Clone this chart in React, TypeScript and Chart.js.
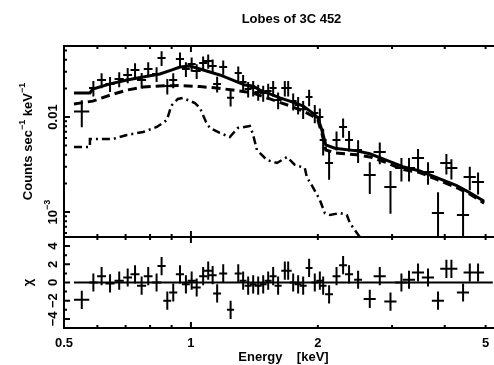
import React, { useEffect, useRef } from "react";
import { Chart, registerables } from "chart.js";

Chart.register(...registerables);

// ---------- data ----------
const title = "Lobes of 3C 452";
const xTitle = "Energy    [keV]";
const yTitleMain = "Counts sec";
const yTitleUnit = " keV";
const residTitle = "χ";

const energy = [
  0.551, 0.587, 0.614, 0.643, 0.676, 0.708, 0.737, 0.764, 0.792, 0.829,
  0.852, 0.879, 0.908, 0.942, 0.973, 1.004, 1.032, 1.069, 1.099, 1.126,
  1.154, 1.193, 1.242, 1.295, 1.33, 1.367, 1.405, 1.444, 1.484, 1.525,
  1.567, 1.61, 1.67, 1.701, 1.748, 1.796, 1.846, 1.907, 1.967, 2.022,
  2.059, 2.127, 2.215, 2.296, 2.372, 2.492, 2.656, 2.805, 2.974, 3.157,
  3.291, 3.457, 3.651, 3.856, 4.036, 4.148, 4.421, 4.586, 4.798,
];
const energyHalfWidth = [
  0.023, 0.014, 0.015, 0.016, 0.017, 0.017, 0.018, 0.019, 0.019, 0.02,
  0.019, 0.019, 0.02, 0.021, 0.021, 0.022, 0.023, 0.023, 0.024, 0.025,
  0.025, 0.026, 0.024, 0.025, 0.025, 0.026, 0.027, 0.028, 0.028, 0.029,
  0.03, 0.031, 0.032, 0.033, 0.033, 0.034, 0.035, 0.036, 0.038, 0.039,
  0.039, 0.046, 0.048, 0.05, 0.052, 0.054, 0.088, 0.093, 0.099, 0.105,
  0.11, 0.115, 0.122, 0.128, 0.134, 0.138, 0.147, 0.153, 0.16,
];
const counts = [
  0.0114, 0.0202, 0.0245, 0.0223, 0.0251, 0.0277, 0.0313, 0.0245, 0.032, 0.0284,
  0.0418, 0.0212, 0.0245, 0.0408, 0.032, 0.0361, 0.0305, 0.037, 0.0389, 0.0344,
  0.0223, 0.0336, 0.0159, 0.029, 0.0234, 0.0197, 0.0202, 0.0183, 0.0179, 0.0188,
  0.0202, 0.0151, 0.0202, 0.0202, 0.0147, 0.0134, 0.0121, 0.0162, 0.011, 0.01,
  0.00573, 0.00328, 0.00573, 0.00785, 0.00573, 0.00449, 0.00245, 0.00428, 0.00183, 0.0029,
  0.0029, 0.0037, 0.00264, 0.000976, 0.00328, 0.0029, 0.00093, 0.00234, 0.00207,
];
const countsErr = [
  0.0036, 0.0038, 0.0044, 0.004, 0.0045, 0.005, 0.0055, 0.0045, 0.0057, 0.005,
  0.0073, 0.0039, 0.0044, 0.007, 0.0057, 0.0062, 0.0054, 0.0064, 0.0066, 0.006,
  0.0042, 0.0058, 0.003, 0.0051, 0.0043, 0.0037, 0.0038, 0.0035, 0.0034, 0.0036,
  0.0038, 0.003, 0.0038, 0.0038, 0.003, 0.0028, 0.0026, 0.0032, 0.0024, 0.0023,
  0.0018, 0.0011, 0.0013, 0.0018, 0.0014, 0.0012, 0.0009, 0.0011, 0.00087, 0.0008,
  0.0008, 0.0009, 0.0007, 0.00064, 0.0008, 0.0007, 0.00075, 0.00065, 0.00054,
];
const residual = [
  -1.9, 0.0, 0.7, -0.1, 0.2, 0.55, 0.9, -0.35, 0.7, 0.0,
  1.8, -2.0, -1.1, 0.9, -0.2, 0.2, -0.55, 0.7, 1.3, 0.8,
  -1.2, 1.0, -3.0, 1.0, 0.2, -0.35, -0.2, -0.35, -0.2, 0.2,
  0.7, -0.35, 1.3, 1.3, 0.0, -0.2, -0.35, 1.6, 0.0, 0.2,
  -0.35, -1.3, 0.7, 1.9, 0.9, 0.3, -1.8, 0.7, -2.1, 0.0,
  0.3, 1.1, 0.55, -2.0, 1.5, 1.5, -1.1, 1.1, 1.1,
];
const residualErr = 1;

const totalModelE = [
  0.528, 0.576, 0.585, 0.643, 0.705, 0.77, 0.844, 0.902, 0.942, 0.995,
  1.051, 1.109, 1.171, 1.257, 1.343, 1.403, 1.457, 1.539, 1.626, 1.716,
  1.843, 1.946, 2.0, 2.044, 2.089, 2.195, 2.474, 2.656, 2.915, 3.181,
  3.49, 3.83, 4.27, 4.58, 4.96,
];
const totalModel = [
  0.0179, 0.0179, 0.0197, 0.0223, 0.0245, 0.0264, 0.0284, 0.0313, 0.0336, 0.0344,
  0.032, 0.0298, 0.0277, 0.0245, 0.0217, 0.0212, 0.0192, 0.0175, 0.0159, 0.0147,
  0.0131, 0.011, 0.0098, 0.0073, 0.0051, 0.0047, 0.0044, 0.0041, 0.0035, 0.003,
  0.0027, 0.0023, 0.0019, 0.0016, 0.0013,
];
const powerLawE = [
  0.528, 0.585, 0.643, 0.705, 0.77, 0.844, 0.942, 1.051, 1.152, 1.257,
  1.403, 1.539, 1.716, 1.843, 1.946, 2.0, 2.044, 2.089, 2.195, 2.474,
  2.656, 2.915, 3.181, 3.49, 3.83, 4.27, 4.58, 4.96,
];
const powerLaw = [
  0.0137, 0.0147, 0.017, 0.0192, 0.0207, 0.0212, 0.0215, 0.0209, 0.0202, 0.0192,
  0.0179, 0.0155, 0.0131, 0.0116, 0.0102, 0.0093, 0.0068, 0.0045, 0.0042, 0.004,
  0.0038, 0.0033, 0.0028, 0.0026, 0.0022, 0.0018, 0.00155, 0.00124,
];
const thermalE = [
  0.528, 0.576, 0.576, 0.653, 0.705, 0.77, 0.83, 0.877, 0.892, 0.902,
  0.931, 0.957, 0.995, 1.022, 1.051, 1.068, 1.086, 1.109, 1.171, 1.237,
  1.292, 1.38, 1.403, 1.434, 1.514, 1.6, 1.69, 1.764, 1.863, 1.883,
  1.946, 2.022, 2.078, 2.136, 2.256, 2.344, 2.382, 2.447, 2.543,
];
const thermal = [
  0.00483, 0.00483, 0.00587, 0.00587, 0.00647, 0.00695, 0.00785, 0.0093, 0.01185, 0.01338,
  0.01547, 0.01585, 0.01474, 0.01404, 0.01244, 0.0105, 0.00886, 0.00766, 0.00679, 0.00616,
  0.00766, 0.00804, 0.00662, 0.00449, 0.00353, 0.00328, 0.00379, 0.00313, 0.0029, 0.00234,
  0.00183, 0.00134, 0.000976, 0.00093, 0.000976, 0.00093, 0.000766, 0.000647, 0.000512,
];
const zeroLineE = [0.528, 5.2];

const xMin = 0.5;
const xMax = 6;
const yMin = 5.458e-4;
const yMax = 0.05589;
const residMin = -5;
const residMax = 5;

const xMinorTicks = [0.6, 0.7, 0.8, 0.9, 2, 3, 4, 5];
const xMajorTicks = [1];
const xTickLabels = [
  { v: 0.5, t: "0.5" },
  { v: 1, t: "1" },
  { v: 2, t: "2" },
  { v: 5, t: "5" },
];
const yMajorTicks = [0.001, 0.01];
const yMinorTicks = [
  0.0006, 0.0007, 0.0008, 0.0009, 0.002, 0.003, 0.004, 0.005, 0.006, 0.007, 0.008,
  0.009, 0.02, 0.03, 0.04, 0.05,
];
const residMajorTicks = [-4, -2, 0, 2, 4];
const residMinorTicks = [-5, -3, -1, 1, 3, 5];
const residTickLabels = ["−4", "−2", "0", "2", "4"];

const FONT = '"Liberation Sans", Arial, sans-serif';

const pgplotPlugin = {
  id: "pgplot",
  afterDatasetsDraw(chart: any) {
    const { ctx, chartArea } = chart;
    const xs = chart.scales.x;
    const ys = chart.scales.y;
    const rs = chart.scales.y2;
    const left = chartArea.left;
    const right = chartArea.right;
    const tTop = ys.top;
    const tBot = ys.bottom;
    const rTop = rs.top;
    const rBot = rs.bottom;
    ctx.save();
    ctx.strokeStyle = "#000";
    ctx.fillStyle = "#000";
    ctx.lineCap = "butt";

    // data crosses (top panel)
    ctx.save();
    ctx.beginPath();
    ctx.rect(left, tTop, right - left, tBot - tTop);
    ctx.clip();
    ctx.lineWidth = 2;
    ctx.beginPath();
    energy.forEach((e, i) => {
      const px = xs.getPixelForValue(e);
      const pl = xs.getPixelForValue(e - energyHalfWidth[i]);
      const pr = xs.getPixelForValue(e + energyHalfWidth[i]);
      const py = ys.getPixelForValue(counts[i]);
      const lo = counts[i] - countsErr[i];
      const pt = ys.getPixelForValue(counts[i] + countsErr[i]);
      const pb = lo > 0 ? ys.getPixelForValue(lo) : tBot + 5;
      ctx.moveTo(pl, py);
      ctx.lineTo(pr, py);
      ctx.moveTo(px, pt);
      ctx.lineTo(px, pb);
    });
    ctx.stroke();
    ctx.restore();

    // residual crosses
    ctx.save();
    ctx.beginPath();
    ctx.rect(left, rTop, right - left, rBot - rTop);
    ctx.clip();
    ctx.lineWidth = 2;
    ctx.beginPath();
    energy.forEach((e, i) => {
      const px = xs.getPixelForValue(e);
      const pl = xs.getPixelForValue(e - energyHalfWidth[i]);
      const pr = xs.getPixelForValue(e + energyHalfWidth[i]);
      const py = rs.getPixelForValue(residual[i]);
      const pt = rs.getPixelForValue(residual[i] + residualErr);
      const pb = rs.getPixelForValue(residual[i] - residualErr);
      ctx.moveTo(pl, py);
      ctx.lineTo(pr, py);
      ctx.moveTo(px, pt);
      ctx.lineTo(px, pb);
    });
    ctx.stroke();
    ctx.restore();

    // frames
    ctx.lineWidth = 2;
    ctx.strokeRect(left, tTop, right - left, tBot - tTop);
    ctx.strokeRect(left, rTop, right - left, rBot - rTop);

    // ticks
    const MAJ = 6;
    const MIN = 3;
    ctx.lineWidth = 2;
    ctx.beginPath();
    const xTick = (v: number, len: number) => {
      const p = xs.getPixelForValue(v);
      ctx.moveTo(p, tTop);
      ctx.lineTo(p, tTop + len);
      ctx.moveTo(p, tBot);
      ctx.lineTo(p, tBot - len);
      ctx.moveTo(p, rTop);
      ctx.lineTo(p, rTop + len);
      ctx.moveTo(p, rBot);
      ctx.lineTo(p, rBot - len);
    };
    xMinorTicks.forEach((v) => xTick(v, MIN));
    xMajorTicks.forEach((v) => xTick(v, MAJ));
    const yTick = (scale: any, v: number, len: number) => {
      const p = scale.getPixelForValue(v);
      ctx.moveTo(left, p);
      ctx.lineTo(left + len, p);
      ctx.moveTo(right, p);
      ctx.lineTo(right - len, p);
    };
    yMinorTicks.forEach((v) => yTick(ys, v, MIN));
    yMajorTicks.forEach((v) => yTick(ys, v, MAJ));
    residMinorTicks.forEach((v) => yTick(rs, v, MIN));
    residMajorTicks.forEach((v) => yTick(rs, v, MAJ));
    ctx.stroke();

    // text
    ctx.font = `bold 13px ${FONT}`;
    ctx.textAlign = "center";
    ctx.textBaseline = "middle";
    ctx.fillText(title, (left + right) / 2, 19);
    xTickLabels.forEach((l) => {
      ctx.fillText(l.t, xs.getPixelForValue(l.v), rBot + 15);
    });
    ctx.fillText(xTitle, (left + right) / 2 - 8, rBot + 29);

    const rotText = (x: number, y: number, draw: () => void) => {
      ctx.save();
      ctx.translate(x, y);
      ctx.rotate(-Math.PI / 2);
      draw();
      ctx.restore();
    };
    const tickLabelX = left - 11;
    rotText(tickLabelX, ys.getPixelForValue(0.01), () => ctx.fillText("0.01", 0, 0));
    rotText(tickLabelX, ys.getPixelForValue(0.001), () => {
      ctx.font = `bold 13px ${FONT}`;
      const w1 = ctx.measureText("10").width;
      ctx.font = `bold 9px ${FONT}`;
      const w2 = ctx.measureText("−3").width;
      const start = -(w1 + w2) / 2;
      ctx.textAlign = "left";
      ctx.font = `bold 13px ${FONT}`;
      ctx.fillText("10", start, 0);
      ctx.font = `bold 9px ${FONT}`;
      ctx.fillText("−3", start + w1, -5);
    });
    ctx.font = `bold 13px ${FONT}`;
    ctx.textAlign = "center";
    residMajorTicks.forEach((v, i) => {
      rotText(tickLabelX, rs.getPixelForValue(v), () => ctx.fillText(residTickLabels[i], 0, 0));
    });

    // y titles
    rotText(28, (tTop + tBot) / 2, () => {
      const parts: [string, boolean][] = [
        [yTitleMain, false],
        ["−1", true],
        [yTitleUnit, false],
        ["−1", true],
      ];
      let total = 0;
      const widths = parts.map(([t, sup]) => {
        ctx.font = `bold ${sup ? 9 : 13}px ${FONT}`;
        const w = ctx.measureText(t).width;
        total += w;
        return w;
      });
      let cx = -total / 2;
      ctx.textAlign = "left";
      parts.forEach(([t, sup], i) => {
        ctx.font = `bold ${sup ? 9 : 13}px ${FONT}`;
        ctx.fillText(t, cx, sup ? -5 : 0);
        cx += widths[i];
      });
    });
    ctx.font = `bold 13px ${FONT}`;
    ctx.textAlign = "center";
    rotText(28, rs.getPixelForValue(0), () => ctx.fillText(residTitle, 0, 0));

    ctx.restore();
  },
};

export default function App() {
  const ref = useRef<HTMLCanvasElement>(null);
  useEffect(() => {
    if (!ref.current) return;
    const chart = new Chart(ref.current, {
      type: "scatter",
      data: {
        datasets: [
          {
            label: "data",
            data: energy.map((e, i) => ({ x: e, y: counts[i] })),
            xAxisID: "x",
            yAxisID: "y",
            pointRadius: 0,
            showLine: false,
          },
          {
            label: "total model",
            data: totalModelE.map((e, i) => ({ x: e, y: totalModel[i] })),
            xAxisID: "x",
            yAxisID: "y",
            showLine: true,
            borderColor: "#000",
            borderWidth: 3,
            pointRadius: 0,
            tension: 0,
          },
          {
            label: "power law",
            data: powerLawE.map((e, i) => ({ x: e, y: powerLaw[i] })),
            xAxisID: "x",
            yAxisID: "y",
            showLine: true,
            borderColor: "#000",
            borderWidth: 3,
            borderDash: [9, 5],
            pointRadius: 0,
            tension: 0,
          },
          {
            label: "thermal",
            data: thermalE.map((e, i) => ({ x: e, y: thermal[i] })),
            xAxisID: "x",
            yAxisID: "y",
            showLine: true,
            borderColor: "#000",
            borderWidth: 2.5,
            borderDash: [8, 4, 2, 4],
            pointRadius: 0,
            tension: 0,
          },
          {
            label: "residuals",
            data: energy.map((e, i) => ({ x: e, y: residual[i] })),
            xAxisID: "x",
            yAxisID: "y2",
            pointRadius: 0,
            showLine: false,
          },
          {
            label: "zero",
            data: zeroLineE.map((e) => ({ x: e, y: 0 })),
            xAxisID: "x",
            yAxisID: "y2",
            showLine: true,
            borderColor: "#000",
            borderWidth: 2,
            pointRadius: 0,
          },
        ],
      },
      options: {
        responsive: false,
        animation: false,
        devicePixelRatio: 1,
        layout: { padding: { left: 64, top: 46, right: 11, bottom: 37 } },
        plugins: {
          legend: { display: false },
          tooltip: { enabled: false },
        },
        scales: {
          x: { type: "logarithmic", min: xMin, max: xMax, display: false },
          y: {
            type: "logarithmic",
            min: yMin,
            max: yMax,
            display: false,
            position: "left",
            stack: "panels",
            stackWeight: 191,
            weight: 2,
          },
          y2: {
            type: "linear",
            min: residMin,
            max: residMax,
            display: false,
            position: "left",
            stack: "panels",
            stackWeight: 91,
            weight: 1,
          },
        },
      } as any,
      plugins: [pgplotPlugin],
    });
    return () => chart.destroy();
  }, []);
  return (
    <div
      style={{
        position: "fixed",
        left: 0,
        top: 0,
        width: 494,
        height: 365,
        overflow: "hidden",
        background: "#fff",
      }}
    >
      <canvas ref={ref} width={530} height={365} style={{ display: "block", width: 530, height: 365 }} />
    </div>
  );
}
